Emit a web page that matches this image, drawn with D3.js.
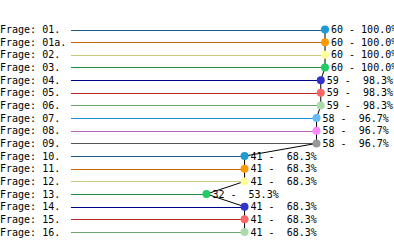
<!DOCTYPE html>
<html>
<head>
<meta charset="utf-8">
<script src="https://cdn.jsdelivr.net/npm/d3@7"></script>
<style>
  body { margin: 0; background: #fff; }
  svg { display: block; }
</style>
</head>
<body>
<script>
const questions = ['01.', '01a.', '02.', '03.', '04.', '05.', '06.', '07.', '08.', '09.',
  '10.', '11.', '12.', '13.', '14.', '15.', '16.'];
const answers = [60, 60, 60, 60, 59, 59, 59, 58, 58, 58, 41, 41, 41, 32, 41, 41, 41];
const percents = [100.0, 100.0, 100.0, 100.0, 98.3, 98.3, 98.3, 96.7, 96.7, 96.7,
  68.3, 68.3, 68.3, 53.3, 68.3, 68.3, 68.3];

// colour cycle repeats every 10 rows
const lineColors = ['#1b5a8a', '#c8640a', '#c8c878', '#1e8c3c', '#00008c',
  '#c02828', '#6aa86a', '#1e8cd2', '#c060c0', '#555555'];
const dotColors = ['#1e9bd2', '#ff9a00', '#ffff99', '#20cc66', '#3333cc',
  '#ff6666', '#aadcaa', '#66bbff', '#ff88ff', '#999999'];

const width = 394;
const height = 245;

const rows = questions.map((q, i) => ({
  label: `Frage: ${q}`,
  value: answers[i],
  pct: percents[i],
  i,
}));

const svg = d3.select('body').append('svg')
  .attr('width', width)
  .attr('height', height);

const x = d3.scaleLinear().domain([0, 60]).range([71, 325]);
const y = d3.scalePoint().domain(rows.map((d) => d.label)).range([29.5, 232]);

const font = '10px "DejaVu Sans Mono", monospace';

svg.selectAll('text.label')
  .data(rows).join('text')
  .attr('class', 'label')
  .attr('x', 0)
  .attr('y', (d) => y(d.label))
  .attr('dy', '0.36em')
  .style('font', font)
  .style('fill', '#000')
  .text((d) => d.label);

svg.selectAll('line.bar')
  .data(rows).join('line')
  .attr('class', 'bar')
  .attr('x1', x(0))
  .attr('x2', (d) => x(d.value))
  .attr('y1', (d) => Math.round(y(d.label)) + 0.5)
  .attr('y2', (d) => Math.round(y(d.label)) + 0.5)
  .attr('stroke', (d) => lineColors[d.i % 10])
  .attr('stroke-width', 1)
  .attr('shape-rendering', 'crispEdges');

svg.selectAll('text.val')
  .data(rows).join('text')
  .attr('class', 'val')
  .attr('x', (d) => x(d.value) + 6)
  .attr('y', (d) => y(d.label))
  .attr('dy', '0.36em')
  .attr('xml:space', 'preserve')
  .style('white-space', 'pre')
  .style('font', font)
  .style('fill', '#000')
  .text((d) => `${d.value} - ${d.pct.toFixed(1).padStart(5)}%`);

const path = d3.line()
  .x((d) => x(d.value))
  .y((d) => y(d.label));

svg.append('path')
  .datum(rows)
  .attr('d', path)
  .attr('fill', 'none')
  .attr('stroke', '#000')
  .attr('stroke-width', 1);

svg.selectAll('circle')
  .data(rows).join('circle')
  .attr('cx', (d) => x(d.value))
  .attr('cy', (d) => y(d.label))
  .attr('r', 4)
  .attr('fill', (d) => dotColors[d.i % 10]);
</script>
</body>
</html>
